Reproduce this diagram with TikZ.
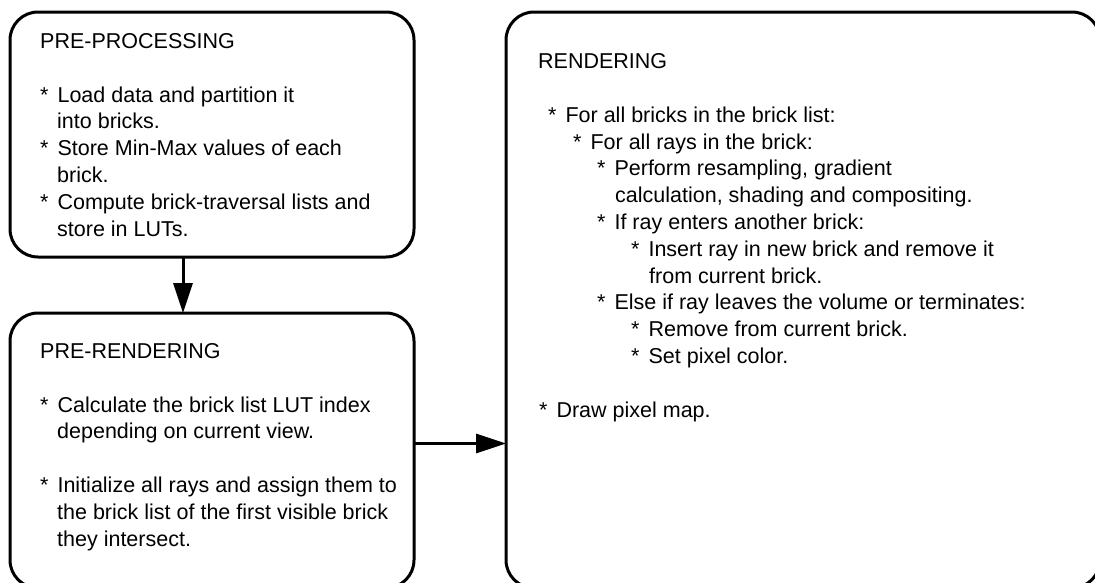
\documentclass[tikz,border=0pt]{standalone}
\usepackage{fontspec}
\setmainfont{Liberation Sans}
\usetikzlibrary{arrows.meta}
\newcommand{\bul}{*\hspace{9pt}}
\newcommand{\ind}[1]{\hspace*{#1pt}}

\begin{document}
\begin{tikzpicture}[x=1pt,y=-1pt]
	\tikzstyle{every node}+=[inner sep=0pt]
	\tikzstyle{stage}=[draw=black, line width=3pt, rounded corners=28pt, outer sep=0pt, anchor=north west]
	\tikzstyle{txt}=[anchor=base west, align=left, font={\fontsize{21.5}{26.8}\selectfont}]
	\tikzstyle{flow}=[line width=3pt, -{Triangle[length=30pt,width=19pt]}]
	\useasboundingbox (0,0) rectangle (1095,582);
	% stage boxes
	\node [stage, minimum width=404pt, minimum height=245pt] (prep) at (10,12) {};
	\node [stage, minimum width=404pt, minimum height=275pt] (prer) at (10,313) {};
	\node [stage, minimum width=594pt, minimum height=576pt] (rend) at (506,12) {};
	% pre-processing (text placed by its last baseline)
	\node [txt] (prephead) at (40,48) {PRE-PROCESSING};
	\node [txt] (preptext) at (40,236) {\bul Load data and partition it\\
		\ind{17}into bricks.\\
		\bul Store Min-Max values of each\\
		\ind{17}brick.\\
		\bul Compute brick-traversal lists and\\
		\ind{17}store in LUTs.};
	% pre-rendering
	\node [txt] (prerhead) at (40,358) {PRE-RENDERING};
	\node [txt] (prertext) at (40,546) {\bul Calculate the brick list LUT index\\
		\ind{17}depending on current view.\\[26.8pt]
		\bul Initialize all rays and assign them to\\
		\ind{17}the brick list of the first visible brick\\
		\ind{17}they intersect.};
	% rendering
	\node [txt] (rendhead) at (538,68) {RENDERING};
	\node [txt] (rendtext) at (539,417) {\ind{9}\bul For all bricks in the brick list:\\
		\ind{34}\bul For all rays in the brick:\\
		\ind{58}\bul Perform resampling, gradient\\
		\ind{76}calculation, shading and compositing.\\
		\ind{58}\bul If ray enters another brick:\\
		\ind{92}\bul Insert ray in new brick and remove it\\
		\ind{110}from current brick.\\
		\ind{58}\bul Else if ray leaves the volume or terminates:\\
		\ind{92}\bul Remove from current brick.\\
		\ind{92}\bul Set pixel color.\\[26.8pt]
		\bul Draw pixel map.};
	% flow
	\draw [flow] ([xshift=-29pt]prep.south) -- ([xshift=-29pt]prer.north);
	\draw [flow] ([yshift=7pt]prer.east) -- ([yshift=7pt]prer.east -| rend.west);
\end{tikzpicture}
\end{document}
